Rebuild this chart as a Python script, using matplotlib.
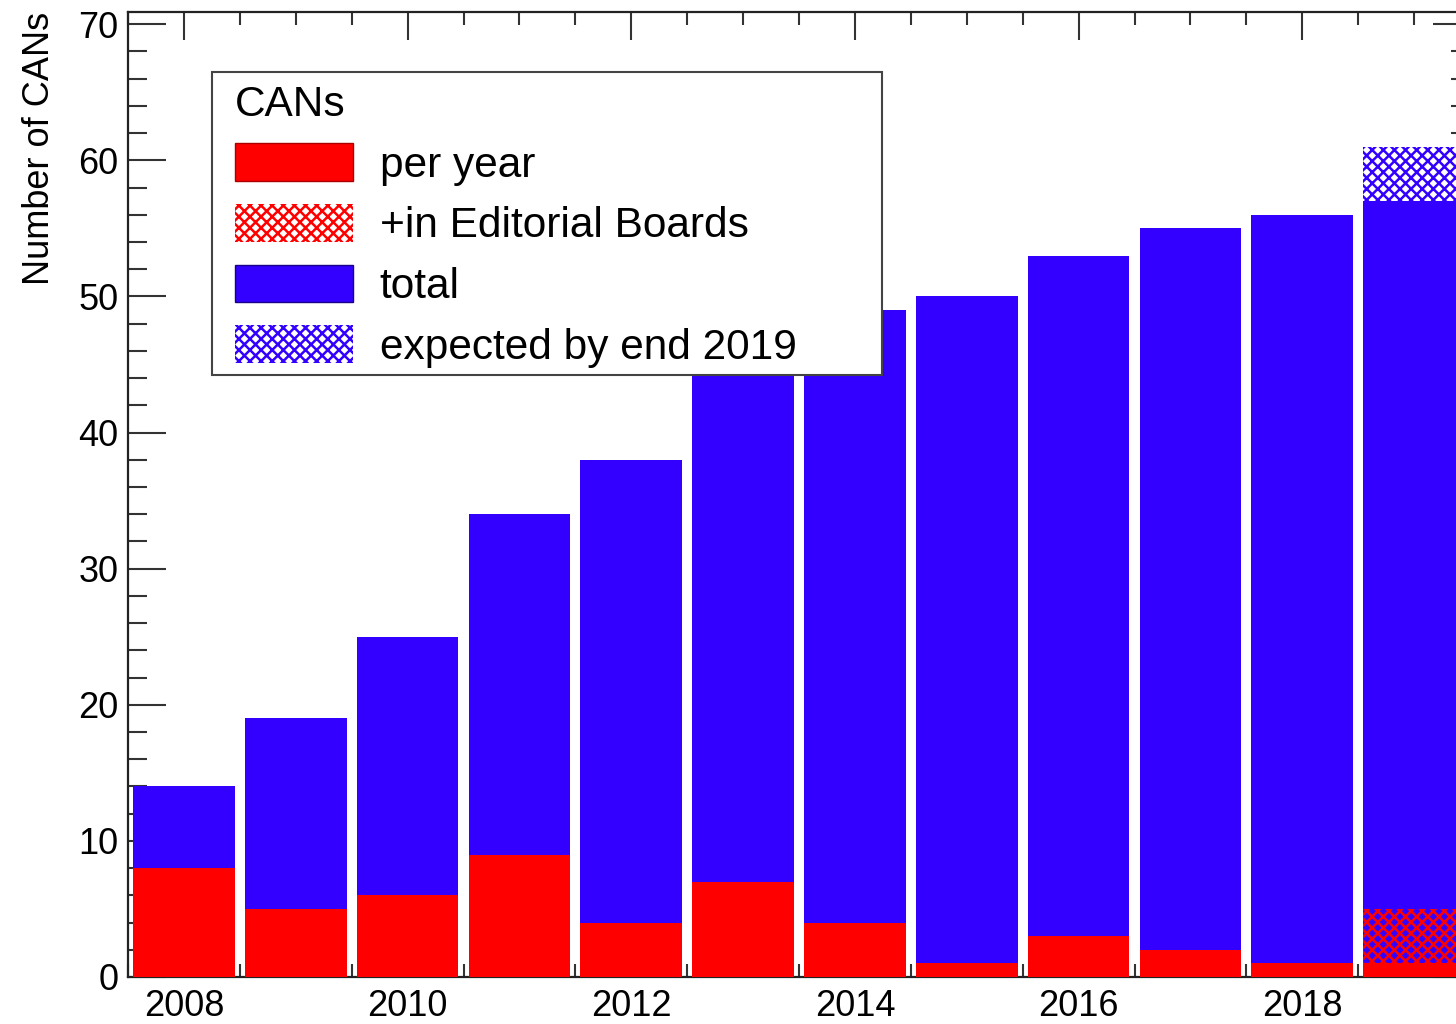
import matplotlib
matplotlib.use('Agg')
import matplotlib.pyplot as plt
from matplotlib.patches import Patch, Rectangle
from matplotlib.ticker import MultipleLocator

# Data
years = [2008, 2009, 2010, 2011, 2012, 2013, 2014, 2015, 2016, 2017, 2018, 2019]
total = [14, 19, 25, 34, 38, 45, 49, 50, 53, 55, 56, 57]
per_year = [8, 5, 6, 9, 4, 7, 4, 1, 3, 2, 1, 1]
expected_year = [2019]
expected_total = [61]
editorial_boards = [5]

red = '#ff0000'
blue = '#3300ff'
hatch = 'xxx'

plt.rcParams['font.family'] = ['Liberation Sans', 'DejaVu Sans']
plt.rcParams['hatch.linewidth'] = 1.8

fig = plt.figure(figsize=(14.56, 10.24), dpi=100)
# axes run a little past the right edge of the picture, as in the original crop
ax = fig.add_axes([128 / 1456, 1 - 977 / 1024, (1470 - 128) / 1456, (977 - 12) / 1024])

w = 0.91
# expected by end of year (hatched, behind the total)
ax.bar(expected_year, expected_total, width=w, color='white', edgecolor=blue,
       hatch=hatch, linewidth=0, zorder=1)
ax.bar(years, total, width=w, color=blue, linewidth=0, zorder=2)
ax.bar(years, per_year, width=w, color=red, linewidth=0, zorder=3)
ax.bar(expected_year, editorial_boards, width=w, fill=False, edgecolor=red,
       hatch=hatch, linewidth=0, zorder=4)

ax.set_xlim(2007.5, 2019.5)
ax.set_ylim(0, 70.9)
ax.set_axisbelow(True)

ax.xaxis.set_major_locator(MultipleLocator(2))
ax.xaxis.set_minor_locator(MultipleLocator(0.5))
ax.yaxis.set_major_locator(MultipleLocator(10))
ax.yaxis.set_minor_locator(MultipleLocator(2))

ax.tick_params(direction='in', top=True, right=True, which='both',
               labelsize=26, color='#333333', width=1.5)
ax.tick_params(axis='x', which='major', length=20, pad=9)
ax.tick_params(axis='x', which='minor', length=9.5)
ax.tick_params(axis='y', which='major', length=27, pad=7)
ax.tick_params(axis='y', which='minor', length=14)

for s in ax.spines.values():
    s.set_linewidth(1.6)
    s.set_color('#222222')

ax.set_ylabel('Number of CANs', fontsize=26, loc='top')
ax.yaxis.set_label_coords(-0.053, 1.0)

# legend box (frame drawn separately so the inner padding can match)
frame = Rectangle((212 / 1456, 1 - 375 / 1024), 670 / 1456, 303 / 1024,
                  transform=fig.transFigure, facecolor='white',
                  edgecolor='#444444', linewidth=1.5, zorder=9, clip_on=False)
ax.add_patch(frame)

handles = [
    Patch(facecolor=red, edgecolor='#aa0000', linewidth=1),
    Patch(facecolor='white', edgecolor=red, hatch=hatch, linewidth=0),
    Patch(facecolor=blue, edgecolor='#1a0088', linewidth=1),
    Patch(facecolor='white', edgecolor=blue, hatch=hatch, linewidth=0),
]
labels = ['per year', '+in Editorial Boards', 'total', 'expected by end 2019']
leg = ax.legend(handles, labels, title='CANs', fontsize=30.5, title_fontsize=30.5,
                loc='upper left', bbox_to_anchor=(235 / 1456, 1 - 85 / 1024),
                bbox_transform=fig.transFigure, borderaxespad=0, borderpad=0,
                alignment='left', handlelength=2.78, handleheight=1.0,
                handletextpad=0.64, labelspacing=0.43, frameon=False)
leg.set_zorder(10)

fig.savefig('out.png', dpi=100)
